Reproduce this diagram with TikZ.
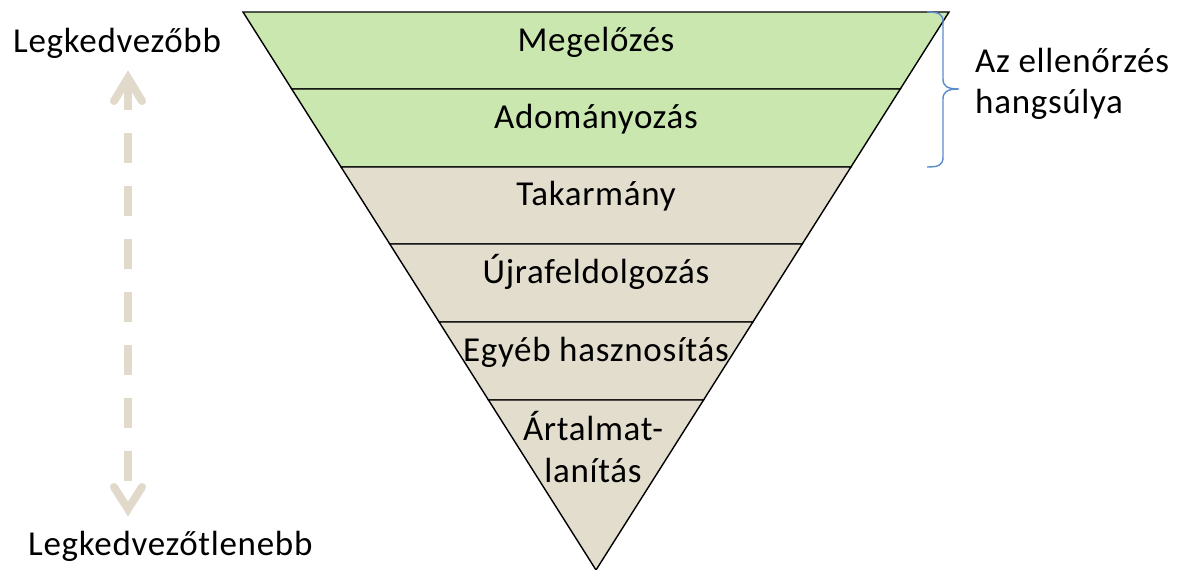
\documentclass[tikz,border=0pt]{standalone}
\usepackage{fontspec}
\setmainfont[LetterSpace=2]{Carlito}
\definecolor{lgreen}{RGB}{201,231,174}
\definecolor{lbeige}{RGB}{227,221,206}
\definecolor{abeige}{RGB}{225,218,203}
\definecolor{bblue}{RGB}{91,140,206}
\begin{document}
\begin{tikzpicture}[x=1pt,y=-1pt,
  layer/.style={draw=black,line width=1.4pt,line join=miter},
  lbl/.style={anchor=base,inner sep=0pt,font=\fontsize{35}{42}\selectfont},
  side/.style={anchor=base west,inner sep=0pt,font=\fontsize{35}{42}\selectfont},
  arrowline/.style={draw=abeige,line width=8pt}]
\useasboundingbox (0,0) rectangle (1178,570);
% triangle geometry: centre x=596, apex y=570, top y=12, half width 353
\def\cx{596}
\foreach \ya/\yb/\col in {12/89/lgreen,89/167/lgreen,167/244/lbeige,244/322/lbeige,322/400/lbeige}{
  \pgfmathsetmacro{\wa}{0.632616*(570-\ya)}
  \pgfmathsetmacro{\wb}{0.632616*(570-\yb)}
  \path[layer,fill=\col] (\cx-\wa,\ya) -- (\cx+\wa,\ya) -- (\cx+\wb,\yb) -- (\cx-\wb,\yb) -- cycle;
}
\pgfmathsetmacro{\wa}{0.632616*(570-400)}
\path[layer,fill=lbeige] (\cx-\wa,400) -- (\cx+\wa,400) -- (\cx,570) -- cycle;
% layer labels
\node[lbl] (l1) at (596,51) {Megelőzés};
\node[lbl] (l2) at (596,128) {Adományozás};
\node[lbl] (l3) at (596,205) {Takarmány};
\node[lbl] (l4) at (596,283) {Újrafeldolgozás};
\node[lbl] (l5) at (596,361) {Egyéb hasznosítás};
\node[lbl] (l6a) at (593,440) {Ártalmat-};
\node[lbl] (l6b) at (593,482) {lanítás};
% side labels
\node[side] (best) at (13,52) {Legkedvezőbb};
\node[side] (worst) at (28,555) {Legkedvezőtlenebb};
\node[side] (emph1) at (975,72) {Az ellenőrzés};
\node[side] (emph2) at (975,113) {hangsúlya};
% bracket
\coordinate (bt) at (927,12);
\coordinate (bm) at (959,89);
\coordinate (bb) at (927,167);
\draw[bblue,line width=1.4pt] (bt) .. controls (939,12) and (943,14) .. (943,22) -- (943,79)
  .. controls (943,86) and (947,89) .. (bm)
  .. controls (947,89) and (943,92) .. (943,99) -- (943,157)
  .. controls (943,165) and (939,167) .. (bb);
% double arrow
\coordinate (atop) at (128,78);
\coordinate (abot) at (128,509);
\draw[arrowline,dash pattern=on 30pt off 23pt] (128,80) -- (128,506);
\draw[arrowline,line cap=round,line join=miter] (114,101) -- (atop) -- (142,101);
\draw[arrowline,line cap=round,line join=miter] (114,487) -- (abot) -- (142,487);
\end{tikzpicture}
\end{document}
